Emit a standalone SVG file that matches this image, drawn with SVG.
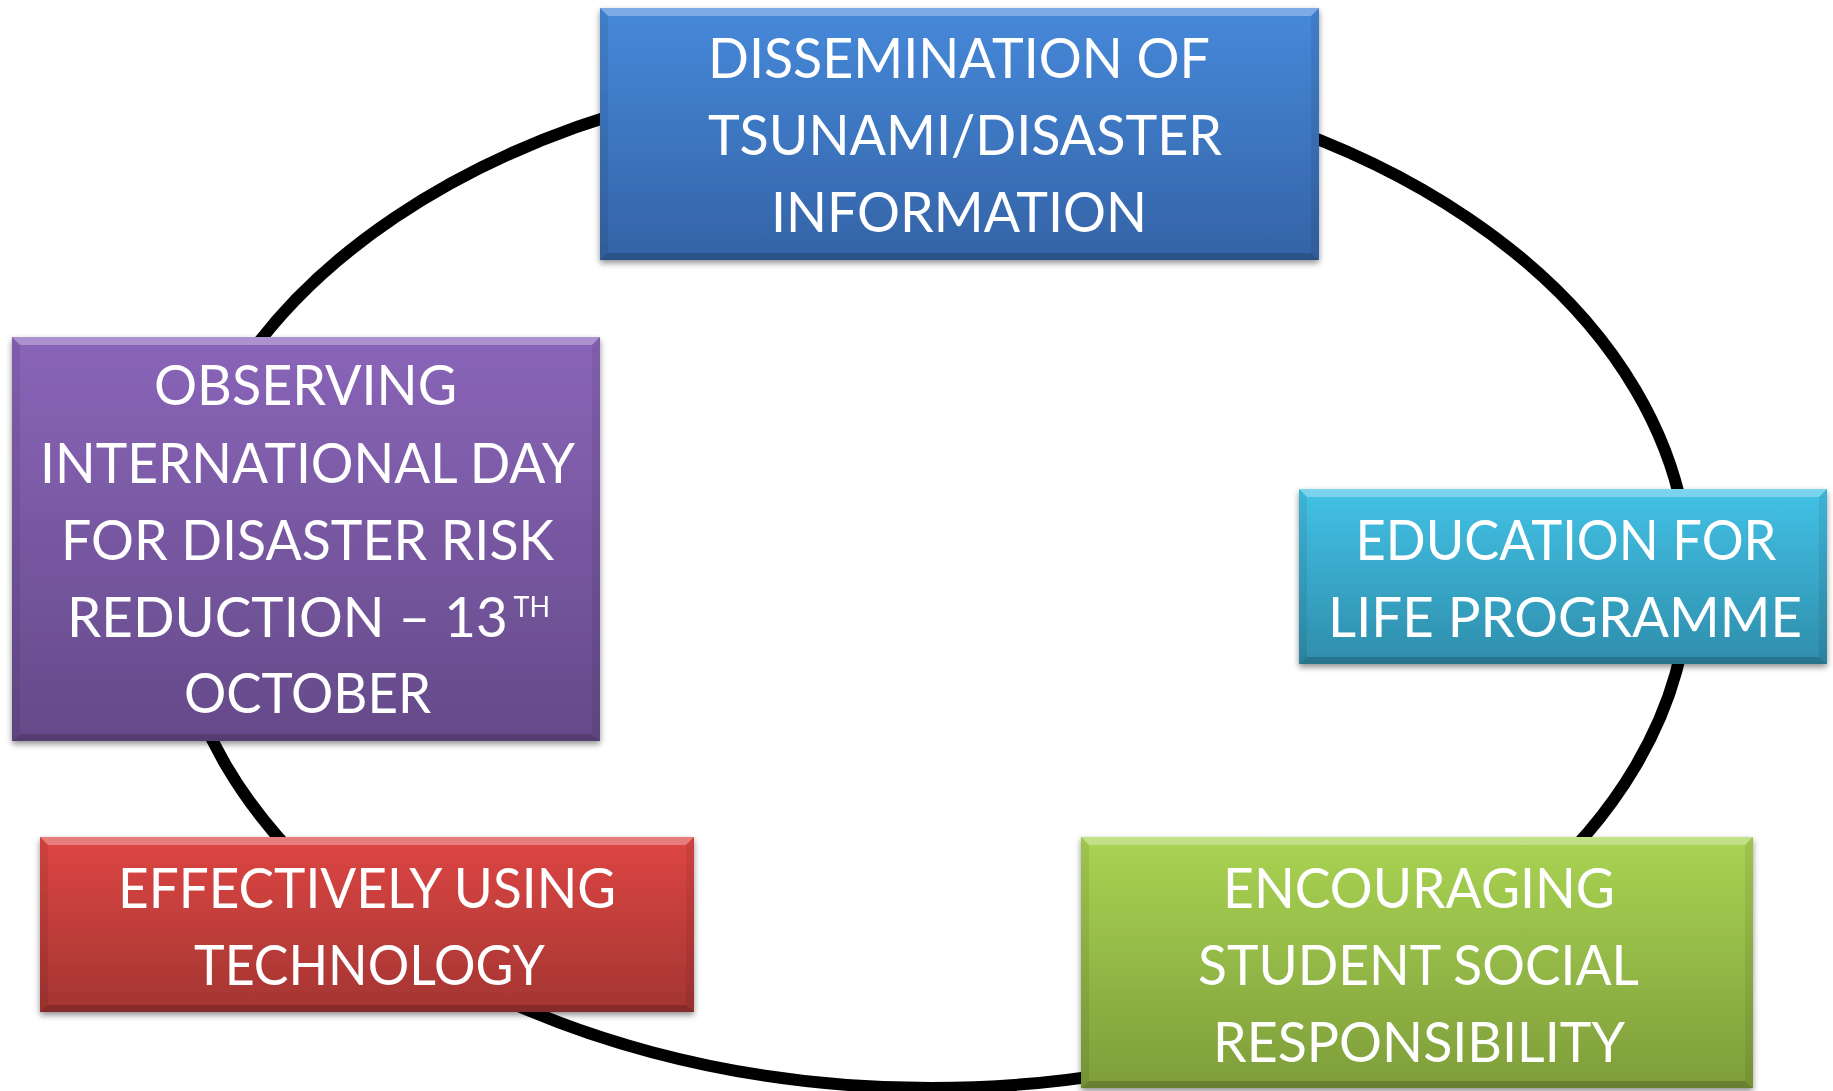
<svg xmlns="http://www.w3.org/2000/svg" width="1833" height="1091" viewBox="0 0 1833 1091">
  <defs>
    <style>
      .lbl { font-family: Lato, "Open Sans", "Liberation Sans", sans-serif; font-size: 57px; fill: #ffffff; }
      .sup { font-size: 28px; }
      .ring { fill: none; stroke: #000000; stroke-width: 12; }
      .bevT { fill: #ffffff; fill-opacity: 0.3; }
      .bevB { fill: #000000; fill-opacity: 0.18; }
      .bevS { fill: #000000; fill-opacity: 0.07; }
    </style>
    <filter id="shadow" x="-5%" y="-5%" width="110%" height="115%">
      <feGaussianBlur in="SourceAlpha" stdDeviation="3"/>
      <feOffset dx="0" dy="3" result="b"/>
      <feComponentTransfer><feFuncA type="linear" slope="0.45"/></feComponentTransfer>
      <feMerge><feMergeNode/><feMergeNode in="SourceGraphic"/></feMerge>
    </filter>
    <linearGradient id="gBlue" x1="0" y1="0" x2="0" y2="1">
      <stop offset="0" stop-color="#4689da"/>
      <stop offset="1" stop-color="#3463a6"/>
    </linearGradient>
    <linearGradient id="gPurple" x1="0" y1="0" x2="0" y2="1">
      <stop offset="0" stop-color="#8a65b9"/>
      <stop offset="1" stop-color="#654a89"/>
    </linearGradient>
    <linearGradient id="gCyan" x1="0" y1="0" x2="0" y2="1">
      <stop offset="0" stop-color="#42c2e6"/>
      <stop offset="1" stop-color="#2f8dab"/>
    </linearGradient>
    <linearGradient id="gRed" x1="0" y1="0" x2="0" y2="1">
      <stop offset="0" stop-color="#de4643"/>
      <stop offset="1" stop-color="#a33532"/>
    </linearGradient>
    <linearGradient id="gGreen" x1="0" y1="0" x2="0" y2="1">
      <stop offset="0" stop-color="#a9d453"/>
      <stop offset="1" stop-color="#7e9d3a"/>
    </linearGradient>
  </defs>

  <g id="connectors">
    <ellipse class="ring" cx="931" cy="578" rx="758" ry="510"/>
  </g>

  <g id="node-dissemination" filter="url(#shadow)">
    <rect x="600" y="8" width="719" height="252" fill="url(#gBlue)"/>
    <polygon class="bevT" points="600,8 1319,8 1311,16 608,16"/>
    <polygon class="bevB" points="600,260 1319,260 1311,253 608,253"/>
    <polygon class="bevS" points="1319,8 1319,260 1311,253 1311,16"/>
    <polygon class="bevS" points="600,8 600,260 608,253 608,16"/>
    <text class="lbl" x="959" y="78" text-anchor="middle" textLength="502" lengthAdjust="spacingAndGlyphs">DISSEMINATION OF</text>
    <text class="lbl" x="965" y="155" text-anchor="middle" textLength="514" lengthAdjust="spacingAndGlyphs">TSUNAMI/DISASTER</text>
    <text class="lbl" x="959" y="232" text-anchor="middle" textLength="376" lengthAdjust="spacingAndGlyphs">INFORMATION</text>
  </g>

  <g id="node-observing" filter="url(#shadow)">
    <rect x="12" y="337" width="588" height="404" fill="url(#gPurple)"/>
    <polygon class="bevT" points="12,337 600,337 592,345 20,345"/>
    <polygon class="bevB" points="12,741 600,741 592,734 20,734"/>
    <polygon class="bevS" points="600,337 600,741 592,734 592,345"/>
    <polygon class="bevS" points="12,337 12,741 20,734 20,345"/>
    <text class="lbl" x="305.5" y="405" text-anchor="middle" textLength="303" lengthAdjust="spacingAndGlyphs">OBSERVING</text>
    <text class="lbl" x="307.5" y="483" text-anchor="middle" textLength="535" lengthAdjust="spacingAndGlyphs">INTERNATIONAL DAY</text>
    <text class="lbl" x="307.5" y="560" text-anchor="middle" textLength="493" lengthAdjust="spacingAndGlyphs">FOR DISASTER RISK</text>
    <text class="lbl" x="67" y="637" textLength="483" lengthAdjust="spacingAndGlyphs">REDUCTION – 13<tspan class="sup" dx="6" dy="-20">TH</tspan></text>
    <text class="lbl" x="307.5" y="713" text-anchor="middle" textLength="247" lengthAdjust="spacingAndGlyphs">OCTOBER</text>
  </g>

  <g id="node-education" filter="url(#shadow)">
    <rect x="1299" y="489" width="528" height="175" fill="url(#gCyan)"/>
    <polygon class="bevT" points="1299,489 1827,489 1819,497 1307,497"/>
    <polygon class="bevB" points="1299,664 1827,664 1819,657 1307,657"/>
    <polygon class="bevS" points="1827,489 1827,664 1819,657 1819,497"/>
    <polygon class="bevS" points="1299,489 1299,664 1307,657 1307,497"/>
    <text class="lbl" x="1566" y="560" text-anchor="middle" textLength="421" lengthAdjust="spacingAndGlyphs">EDUCATION FOR</text>
    <text class="lbl" x="1565" y="637" text-anchor="middle" textLength="474" lengthAdjust="spacingAndGlyphs">LIFE PROGRAMME</text>
  </g>

  <g id="node-technology" filter="url(#shadow)">
    <rect x="40" y="837" width="654" height="175" fill="url(#gRed)"/>
    <polygon class="bevT" points="40,837 694,837 686,845 48,845"/>
    <polygon class="bevB" points="40,1012 694,1012 686,1005 48,1005"/>
    <polygon class="bevS" points="694,837 694,1012 686,1005 686,845"/>
    <polygon class="bevS" points="40,837 40,1012 48,1005 48,845"/>
    <text class="lbl" x="367" y="908" text-anchor="middle" textLength="498" lengthAdjust="spacingAndGlyphs">EFFECTIVELY USING</text>
    <text class="lbl" x="369.5" y="985" text-anchor="middle" textLength="351" lengthAdjust="spacingAndGlyphs">TECHNOLOGY</text>
  </g>

  <g id="node-encouraging" filter="url(#shadow)">
    <rect x="1081" y="837" width="672" height="251" fill="url(#gGreen)"/>
    <polygon class="bevT" points="1081,837 1753,837 1745,845 1089,845"/>
    <polygon class="bevB" points="1081,1088 1753,1088 1745,1081 1089,1081"/>
    <polygon class="bevS" points="1753,837 1753,1088 1745,1081 1745,845"/>
    <polygon class="bevS" points="1081,837 1081,1088 1089,1081 1089,845"/>
    <text class="lbl" x="1419" y="908" text-anchor="middle" textLength="392" lengthAdjust="spacingAndGlyphs">ENCOURAGING</text>
    <text class="lbl" x="1418.5" y="985" text-anchor="middle" textLength="441" lengthAdjust="spacingAndGlyphs">STUDENT SOCIAL</text>
    <text class="lbl" x="1419" y="1062" text-anchor="middle" textLength="412" lengthAdjust="spacingAndGlyphs">RESPONSIBILITY</text>
  </g>
</svg>
